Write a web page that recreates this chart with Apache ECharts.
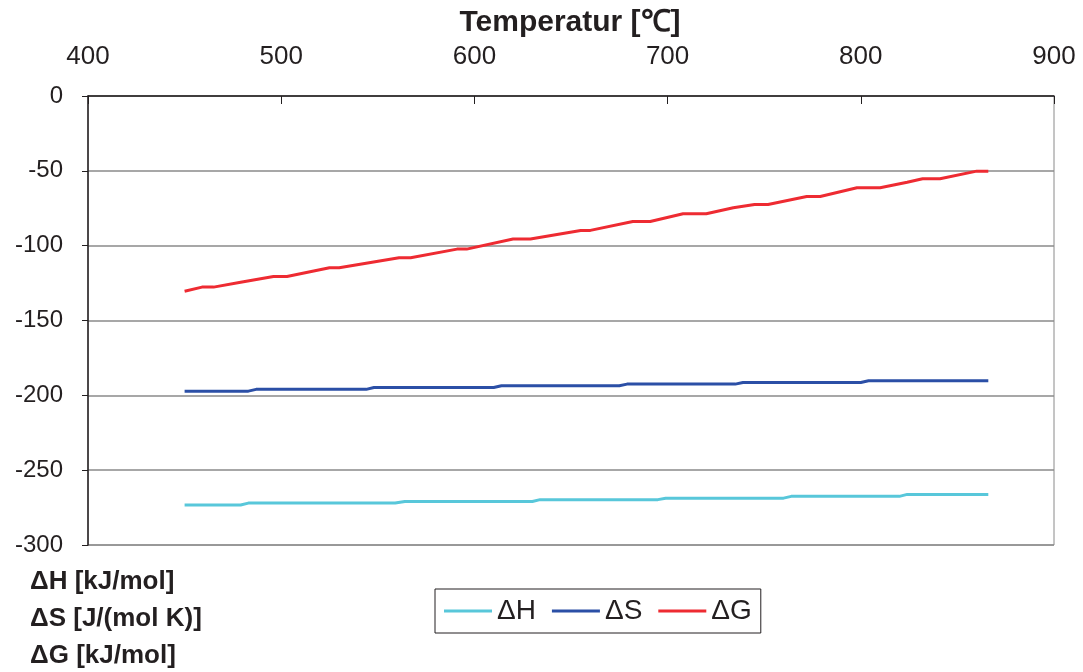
<!DOCTYPE html>
<html>
<head>
<meta charset="utf-8">
<script src="https://cdn.jsdelivr.net/npm/echarts@6/dist/echarts.min.js"></script>
<style>
  html, body { margin: 0; padding: 0; background: #fff; }
  #chart { width: 1083px; height: 672px; }
</style>
</head>
<body>
<div id="chart"></div>
<script>
// Temperature axis ticks and value axis ticks
const xTicks = [400, 500, 600, 700, 800, 900];
const yTicks = [0, -50, -100, -150, -200, -250, -300];

// ΔH [kJ/mol] vs temperature [°C]
const dH = [
  [450, -273.3], [479, -273.3], [483, -272.0], [559, -272.0], [564, -270.9],
  [630, -270.9], [634, -269.7], [695, -269.7], [699, -268.7], [760, -268.7],
  [764, -267.5], [820, -267.5], [824, -266.2], [866, -266.2]
];

// ΔS [J/(mol K)] vs temperature [°C]
const dS = [
  [450, -197.2], [483, -197.2], [487, -196.0], [544, -196.0], [548, -194.8],
  [610, -194.8], [614, -193.6], [675, -193.6], [679, -192.5], [735, -192.5],
  [739, -191.4], [800, -191.4], [804, -190.3], [866, -190.3]
];

// ΔG [kJ/mol] vs temperature [°C]
const dG = [
  [450, -130.4], [459, -127.7], [465, -127.7], [479, -124.4], [496, -120.6],
  [503, -120.6], [525, -114.8], [530, -114.8], [561, -108.1], [567, -108.1],
  [591, -102.3], [596, -102.3], [620, -95.6], [629, -95.6], [655, -89.8],
  [660, -89.8], [682, -83.8], [691, -83.8], [708, -78.7], [720, -78.7],
  [734, -74.7], [745, -72.5], [752, -72.5], [772, -67.1], [779, -67.1],
  [798, -61.3], [810, -61.3], [824, -57.6], [832, -55.3], [841, -55.3],
  [860, -50.2], [866, -50.2]
];

const unitLines = ['ΔH [kJ/mol]', 'ΔS [J/(mol K)]', 'ΔG [kJ/mol]'];

const FONT = 'Liberation Sans, Arial, sans-serif';
const INK = '#231f20';
const chart = echarts.init(document.getElementById('chart'), null, { renderer: 'canvas' });

function lineSeries(name, data, color) {
  return {
    name: name,
    type: 'line',
    data: data,
    showSymbol: false,
    symbol: 'none',
    lineStyle: { color: color, width: 3 },
    itemStyle: { color: color },
    animation: false
  };
}

chart.setOption({
  backgroundColor: '#fff',
  animation: false,
  title: {
    text: 'Temperatur [℃]',
    left: 565,
    textAlign: 'center',
    top: 3,
    textStyle: { fontFamily: FONT, fontSize: 30, fontWeight: 'bold', color: INK }
  },
  grid: { left: 88, right: 29, top: 96, bottom: 127, containLabel: false,
          show: true, borderColor: '#8a8a8a', borderWidth: 1 },
  xAxis: {
    type: 'value',
    position: 'top',
    min: xTicks[0],
    max: xTicks[xTicks.length - 1],
    interval: 100,
    axisLine: { show: true, lineStyle: { color: INK, width: 1.5 } },
    axisTick: { show: true, inside: true, length: 8, lineStyle: { color: INK } },
    axisLabel: { fontFamily: FONT, fontSize: 26, color: INK, margin: 26 },
    splitLine: { show: false }
  },
  yAxis: {
    type: 'value',
    min: yTicks[yTicks.length - 1],
    max: yTicks[0],
    interval: 50,
    axisLine: { show: true, onZero: false, lineStyle: { color: INK, width: 1.5 } },
    axisTick: { show: true, length: 6, lineStyle: { color: INK } },
    axisLabel: { fontFamily: FONT, fontSize: 24, color: INK, margin: 25 },
    splitLine: { show: true, lineStyle: { color: '#8a8a8a', width: 1.5 } }
  },
  legend: {
    left: 435,
    top: 589,
    padding: [8, 9, 8, 9],
    itemWidth: 48,
    itemHeight: 3,
    itemGap: 16,
    borderColor: INK,
    borderWidth: 1,
    icon: 'rect',
    textStyle: { fontFamily: FONT, fontSize: 28, color: INK },
    data: ['ΔH', 'ΔS', 'ΔG']
  },
  graphic: unitLines.map((t, i) => ({
    type: 'text',
    left: 30,
    top: 569 + i * 37,
    style: { text: t, font: 'bold 26px ' + FONT, fill: INK }
  })),
  series: [
    lineSeries('ΔH', dH, '#58C7DA'),
    lineSeries('ΔS', dS, '#2B4FA6'),
    lineSeries('ΔG', dG, '#EE2B32')
  ]
});
</script>
</body>
</html>
